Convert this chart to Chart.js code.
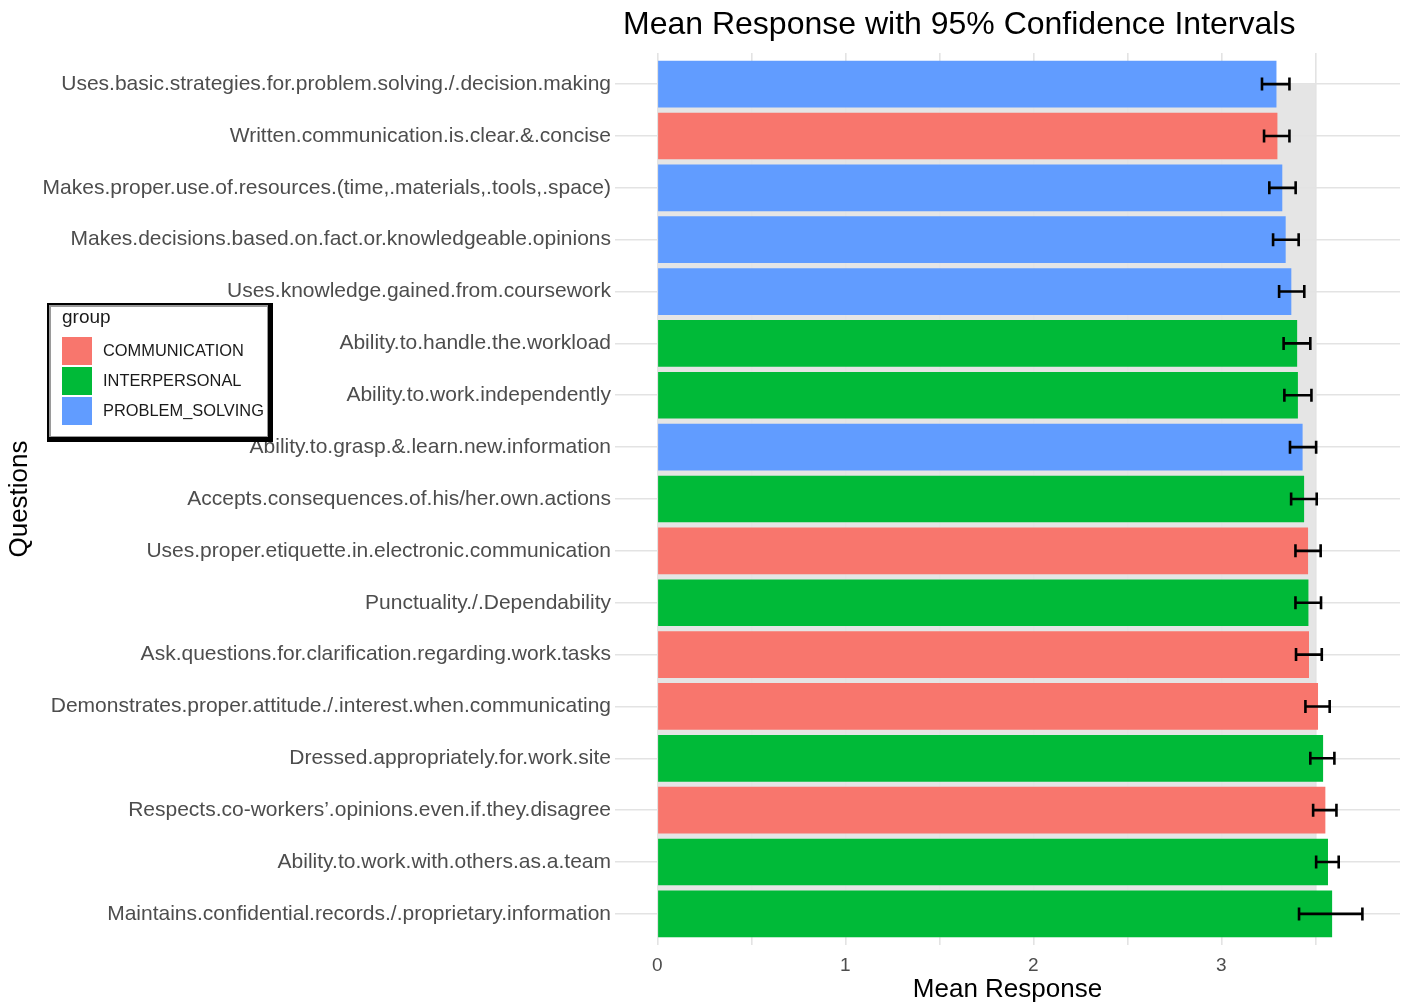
<!DOCTYPE html>
<html>
<head>
<meta charset="utf-8">
<title>Mean Response with 95% Confidence Intervals</title>
<script src="https://cdn.jsdelivr.net/npm/chart.js@4.4.1/dist/chart.umd.min.js"></script>
<style>
  html, body { margin: 0; padding: 0; background: #fff; }
  #wrap { width: 1409px; height: 1005px; }
</style>
</head>
<body>
<div id="wrap"><canvas id="chart"></canvas></div>
<script>
const questions = [
  'Uses.basic.strategies.for.problem.solving./.decision.making',
  'Written.communication.is.clear.&.concise',
  'Makes.proper.use.of.resources.(time,.materials,.tools,.space)',
  'Makes.decisions.based.on.fact.or.knowledgeable.opinions',
  'Uses.knowledge.gained.from.coursework',
  'Ability.to.handle.the.workload',
  'Ability.to.work.independently',
  'Ability.to.grasp.&.learn.new.information',
  'Accepts.consequences.of.his/her.own.actions',
  'Uses.proper.etiquette.in.electronic.communication',
  'Punctuality./.Dependability',
  'Ask.questions.for.clarification.regarding.work.tasks',
  'Demonstrates.proper.attitude./.interest.when.communicating',
  'Dressed.appropriately.for.work.site',
  'Respects.co-workers\u2019.opinions.even.if.they.disagree',
  'Ability.to.work.with.others.as.a.team',
  'Maintains.confidential.records./.proprietary.information'
];
const groups = [
  'PROBLEM_SOLVING', 'COMMUNICATION', 'PROBLEM_SOLVING', 'PROBLEM_SOLVING',
  'PROBLEM_SOLVING', 'INTERPERSONAL', 'INTERPERSONAL', 'PROBLEM_SOLVING',
  'INTERPERSONAL', 'COMMUNICATION', 'INTERPERSONAL', 'COMMUNICATION',
  'COMMUNICATION', 'INTERPERSONAL', 'COMMUNICATION', 'INTERPERSONAL',
  'INTERPERSONAL'
];
const means = [3.293, 3.298, 3.324, 3.342, 3.372, 3.403, 3.407, 3.432, 3.440,
               3.461, 3.463, 3.466, 3.514, 3.541, 3.553, 3.567, 3.589];
const ciLow = [3.216, 3.227, 3.255, 3.275, 3.307, 3.331, 3.335, 3.365, 3.371,
               3.394, 3.394, 3.397, 3.447, 3.473, 3.488, 3.504, 3.413];
const ciHigh = [3.362, 3.362, 3.395, 3.411, 3.441, 3.473, 3.479, 3.504, 3.507,
                3.528, 3.530, 3.534, 3.576, 3.601, 3.612, 3.624, 3.750];
const groupNames = ['COMMUNICATION', 'INTERPERSONAL', 'PROBLEM_SOLVING'];
const groupColors = ['#F8766D', '#00BA38', '#619CFF'];
const shadeTo = 3.5;

const FONT = "'Liberation Sans', Arial, sans-serif";
const BAR_PCT = 0.9;
const colorOf = g => groupColors[groupNames.indexOf(g)];

// grey panel behind the bars
const shadePlugin = {
  id: 'shade',
  beforeDraw(chart) {
    const { ctx, scales: { x, y } } = chart;
    const left = x.getPixelForValue(0);
    const right = x.getPixelForValue(shadeTo);
    const top = y.getPixelForValue(0);
    const bottom = y.getPixelForValue(questions.length - 1 + BAR_PCT / 2);
    ctx.save();
    ctx.fillStyle = '#e5e5e5';
    ctx.fillRect(left, top, right - left, bottom - top);
    ctx.restore();
  }
};

// confidence interval whiskers
const errorBars = {
  id: 'errorBars',
  afterDatasetsDraw(chart) {
    const { ctx, scales: { x, y } } = chart;
    ctx.save();
    ctx.strokeStyle = '#000';
    ctx.lineWidth = 2.6;
    questions.forEach((q, i) => {
      const cy = y.getPixelForValue(i);
      const x0 = x.getPixelForValue(ciLow[i]);
      const x1 = x.getPixelForValue(ciHigh[i]);
      ctx.beginPath();
      ctx.moveTo(x0, cy); ctx.lineTo(x1, cy);
      ctx.moveTo(x0, cy - 6.5); ctx.lineTo(x0, cy + 6.5);
      ctx.moveTo(x1, cy - 6.5); ctx.lineTo(x1, cy + 6.5);
      ctx.stroke();
    });
    ctx.restore();
  }
};

// title left-aligned over the panel, plus the framed group legend
const decorations = {
  id: 'decorations',
  afterDraw(chart) {
    const { ctx, chartArea } = chart;
    ctx.save();
    ctx.fillStyle = '#000';
    ctx.font = `32px ${FONT}`;
    ctx.textBaseline = 'middle';
    ctx.textAlign = 'left';
    ctx.fillText('Mean Response with 95% Confidence Intervals', chartArea.left + 8, 25);

    // legend box with a heavier bottom/right edge
    ctx.fillStyle = '#000';
    ctx.fillRect(47, 303, 226, 139);
    ctx.fillStyle = '#9a9a9a';
    ctx.fillRect(49, 305, 219, 132);
    ctx.fillStyle = '#fff';
    ctx.fillRect(51, 307, 216, 129);
    ctx.fillStyle = '#1a1a1a';
    ctx.font = `19px ${FONT}`;
    ctx.fillText('group', 62, 318);
    ctx.font = `16.4px ${FONT}`;
    groupNames.forEach((g, i) => {
      const top = 337 + i * 30;
      ctx.fillStyle = groupColors[i];
      ctx.fillRect(62, top, 30, 28);
      ctx.fillStyle = '#1a1a1a';
      ctx.fillText(g, 103, top + 14);
    });
    ctx.restore();
  }
};

new Chart(document.getElementById('chart'), {
  type: 'bar',
  data: {
    datasets: [{
      data: means.map((v, i) => ({ x: v, y: i })),
      backgroundColor: groups.map(colorOf),
      borderWidth: 0,
      barPercentage: BAR_PCT,
      categoryPercentage: 1
    }]
  },
  options: {
    indexAxis: 'y',
    responsive: true,
    maintainAspectRatio: false,
    animation: false,
    layout: { padding: { top: 53, right: 9, left: 0, bottom: 0 } },
    plugins: {
      legend: { display: false },
      tooltip: { enabled: false }
    },
    scales: {
      x: {
        type: 'linear',
        min: -0.225,
        max: 3.95,
        border: { display: false },
        grid: { color: '#e3e3e3', lineWidth: 1.6, drawTicks: false },
        ticks: {
          stepSize: 0.5,
          includeBounds: false,
          padding: 9,
          color: '#4d4d4d',
          font: { family: FONT, size: 19 },
          callback: v => Number.isInteger(v) ? String(v) : ''
        },
        afterBuildTicks: scale => {
          scale.ticks = scale.ticks.filter(t => t.value >= 0);
        },
        afterFit: scale => { scale.height = 60; },
        title: {
          display: true,
          text: 'Mean Response',
          color: '#000',
          font: { family: FONT, size: 26 },
          padding: { top: 0, bottom: 0 }
        }
      },
      y: {
        type: 'linear',
        reverse: true,
        offset: false,
        min: -0.6,
        max: questions.length - 1 + 0.6,
        border: { display: false },
        grid: { color: '#e3e3e3', lineWidth: 1.6, drawTicks: false, offset: false },
        afterBuildTicks: scale => {
          scale.ticks = questions.map((q, i) => ({ value: i }));
        },
        ticks: {
          padding: 4,
          autoSkip: false,
          color: '#4d4d4d',
          font: { family: FONT, size: 21 },
          callback: v => questions[v]
        },
        afterFit: scale => { scale.width = 615; },
        title: {
          display: true,
          text: 'Questions',
          color: '#000',
          font: { family: FONT, size: 26 },
          padding: { top: 4, bottom: 0 }
        }
      }
    }
  },
  plugins: [shadePlugin, errorBars, decorations]
});
</script>
</body>
</html>
